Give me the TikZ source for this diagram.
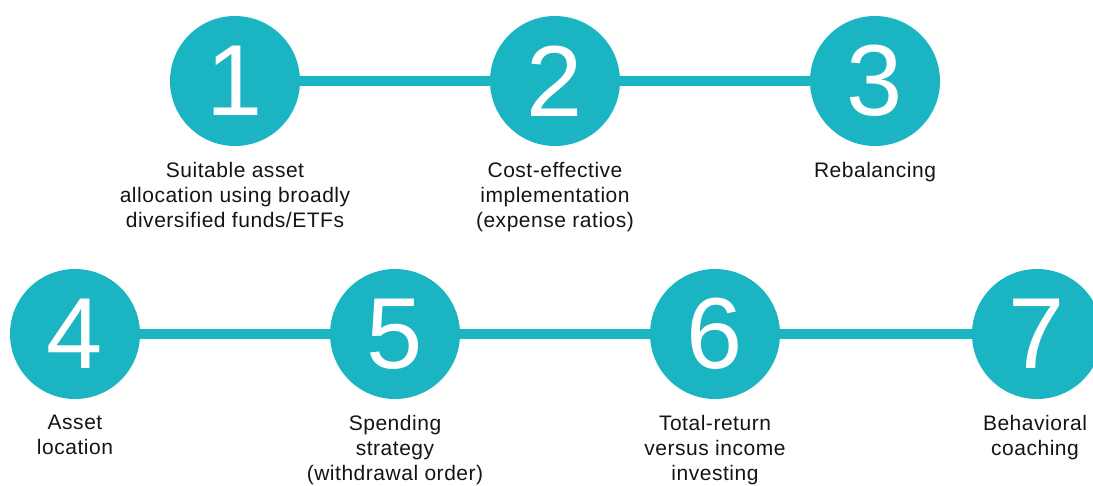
\documentclass[tikz,border=0pt]{standalone}
\usepackage{fontspec}
\setmainfont{Liberation Sans}
\newfontfamily\digitfont{Liberation Sans}
\newfontfamily\lblfont{Liberation Sans}[LetterSpace=2.5]
\definecolor{tealA}{RGB}{27,180,194}
\definecolor{ink}{RGB}{20,20,20}
\begin{document}
\begin{tikzpicture}[x=1pt,y=-1pt,
  num/.style={circle,fill=tealA,minimum size=130pt,inner sep=0pt,text=white,
    font=\digitfont\fontsize{101}{101}\selectfont},
  link/.style={draw=tealA,line width=10pt},
  lbl/.style={anchor=north,align=center,inner sep=0pt,text=ink,
    font=\lblfont\fontsize{21}{25}\selectfont}]
\useasboundingbox (0,0) rectangle (1093,485);
\clip (0,0) rectangle (1093,485);
% row 1
\node[num] (c1) at (235,81) {1};
\node[num] (c2) at (555,81) {2};
\node[num] (c3) at (875,81) {3};
% row 2
\node[num] (c4) at (75,334) {4};
\node[num] (c5) at (395,334) {5};
\node[num] (c6) at (715,334) {6};
\node[num] (c7) at (1037,334) {7};
% connectors
\draw[link] (c1) -- (c2);
\draw[link] (c2) -- (c3);
\draw[link] (c4) -- (c5);
\draw[link] (c5) -- (c6);
\draw[link] (c6) -- (c7);
% labels
\node[lbl] (l1) at (235,162) {Suitable asset\\allocation using broadly\\diversified funds/ETFs};
\node[lbl] (l2) at (555,162) {Cost-effective\\implementation\\(expense ratios)};
\node[lbl] (l3) at (875,162) {Rebalancing};
\node[lbl] (l4) at (75,415) {Asset\\location};
\node[lbl] (l5) at (395,415) {Spending\\strategy\\(withdrawal order)};
\node[lbl] (l6) at (715,415) {Total-return\\versus income\\investing};
\node[lbl] (l7) at (1035,415) {Behavioral\\coaching};
\end{tikzpicture}
\end{document}
